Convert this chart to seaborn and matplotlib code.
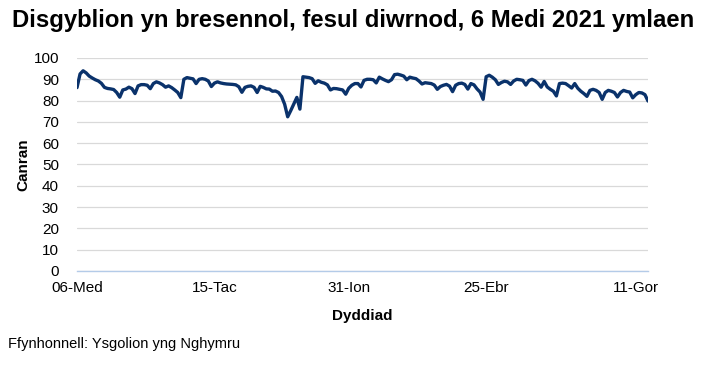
import numpy as np
import pandas as pd
import matplotlib
matplotlib.use("Agg")
import matplotlib.pyplot as plt
import seaborn as sns

# ---------------- data ----------------
title = "Disgyblion yn bresennol, fesul diwrnod, 6 Medi 2021 ymlaen"
x_label = "Dyddiad"
y_label = "Canran"
source = "Ffynhonnell: Ysgolion yng Nghymru"

first_day = "2021-09-06"
last_day = "2022-07-15"
holidays = [("2021-10-25", "2021-10-29"), ("2021-12-20", "2022-01-03"),
            ("2022-02-21", "2022-02-25"), ("2022-04-11", "2022-04-22"),
            ("2022-05-02", "2022-05-02"), ("2022-05-30", "2022-06-03")]

# attendance (%) per school day
autumn_term = [86.1, 92.5, 94.0, 93.0, 91.5,
               90.6, 89.8, 89.2, 88.1, 86.2,
               85.7, 85.5, 85.2, 83.8, 81.6,
               85.0, 85.4, 86.3, 85.6, 83.3,
               86.9, 87.5, 87.5, 87.2, 85.6,
               88.0, 88.8, 88.3, 87.5, 86.3,
               86.9, 86.1, 85.0, 83.8, 81.4,
               90.0, 90.8, 90.5, 90.2, 88.0,
               90.0, 90.3, 90.0, 89.2, 86.6,
               88.2, 88.8, 88.3, 88.0, 87.8,
               87.7, 87.6, 87.4, 86.5, 83.9,
               86.2, 86.7, 86.9, 86.2, 83.8,
               86.7, 86.2, 85.5, 85.4, 84.4,
               84.5, 83.8, 81.9, 78.3, 72.4]
spring_term = [75.3, 78.4, 81.5, 76.0,
               91.2, 91.0, 90.8, 90.3, 88.1,
               89.3, 88.6, 88.2, 87.4, 85.0,
               85.7, 85.6, 85.3, 85.0, 83.0,
               85.8, 87.2, 88.0, 88.0, 86.4,
               89.5, 90.0, 90.0, 89.8, 88.3,
               91.0, 90.2, 89.5, 88.9, 89.8,
               92.2, 92.4, 92.0, 91.5, 89.8,
               91.0, 90.6, 90.3, 89.2, 87.8,
               88.4, 88.2, 88.0, 87.3, 85.3,
               86.6, 87.2, 87.6, 86.8, 84.2,
               87.2, 88.0, 88.2, 87.6, 85.4,
               88.0, 87.4, 85.5, 84.0, 80.6]
summer_term = [91.2, 91.9, 91.0, 89.8, 87.6,
               88.5, 89.1, 88.8, 87.6,
               89.2, 90.0, 89.8, 89.5, 87.3,
               89.4, 90.0, 89.3, 88.1, 86.3,
               89.0, 86.4, 85.3, 84.4, 82.2,
               88.0, 88.2, 88.0, 87.0, 85.9,
               88.0, 85.8, 84.4, 83.3, 82.0,
               84.8, 85.3, 84.8, 83.8, 80.6,
               83.8, 84.8, 84.4, 83.8, 81.7,
               83.8, 84.8, 84.3, 84.0, 81.3,
               82.8, 83.8, 83.6, 82.8, 79.8]

tick_dates = ["2021-09-06", "2021-11-15", "2022-01-31", "2022-04-25", "2022-07-11"]
welsh_months = {1: "Ion", 2: "Chw", 3: "Maw", 4: "Ebr", 5: "Mai", 6: "Meh",
                7: "Gor", 8: "Aws", 9: "Med", 10: "Hyd", 11: "Tac", 12: "Rha"}
y_ticks = list(range(0, 101, 10))

# ---------------- build table ----------------
days = pd.bdate_range(first_day, last_day)
mask = np.ones(len(days), dtype=bool)
for a, b in holidays:
    mask &= ~((days >= a) & (days <= b))
days = days[mask]
values = autumn_term + spring_term + summer_term
n = min(len(days), len(values))
df = pd.DataFrame({"date": days[:n], "pos": np.arange(n), "value": values[:n]})

# ---------------- plot ----------------
sns.set_style("white")
plt.rcParams["font.family"] = ["Liberation Sans", "DejaVu Sans"]
plt.rcParams["text.color"] = "black"
plt.rcParams["axes.labelcolor"] = "black"

fig = plt.figure(figsize=(7.13, 3.65), dpi=100)
ax = fig.add_axes([77 / 713, 1 - 271 / 365, (648 - 77) / 713, (271 - 58) / 365])

sns.lineplot(data=df, x="pos", y="value", ax=ax, color="#0a326b",
             linewidth=2.4, solid_joinstyle="round", solid_capstyle="round")

ax.set_ylim(0, 100)
ax.set_xlim(0, n - 1)
ax.set_yticks(y_ticks)
ax.yaxis.grid(True, color="#d9d9d9", linewidth=0.9)
ax.set_axisbelow(True)

tick_pos, tick_lab = [], []
for t in tick_dates:
    ts = pd.Timestamp(t)
    hit = df.index[df["date"] == ts]
    if len(hit):
        tick_pos.append(int(df.loc[hit[0], "pos"]))
        tick_lab.append(f"{ts.day:02d}-{welsh_months[ts.month]}")
ax.set_xticks(tick_pos)
ax.set_xticklabels(tick_lab)

for s in ["top", "right", "left"]:
    ax.spines[s].set_visible(False)
ax.spines["bottom"].set_color("#b4cbe8")
ax.spines["bottom"].set_linewidth(1.0)
ax.tick_params(axis="both", length=0, labelsize=11, colors="#000000")
ax.tick_params(axis="y", pad=13)
ax.tick_params(axis="x", pad=7)

ax.set_xlabel(x_label, fontsize=11, fontweight="bold", labelpad=10)
ax.set_ylabel(y_label, fontsize=11, fontweight="bold", labelpad=2)

fig.text(12 / 713, 1 - 21 / 365, title, fontsize=17.2, fontweight="bold",
         ha="left", va="center")
fig.text(8 / 713, 1 - 344 / 365, source, fontsize=10.5, ha="left", va="center")

fig.savefig("out.png", dpi=100)
